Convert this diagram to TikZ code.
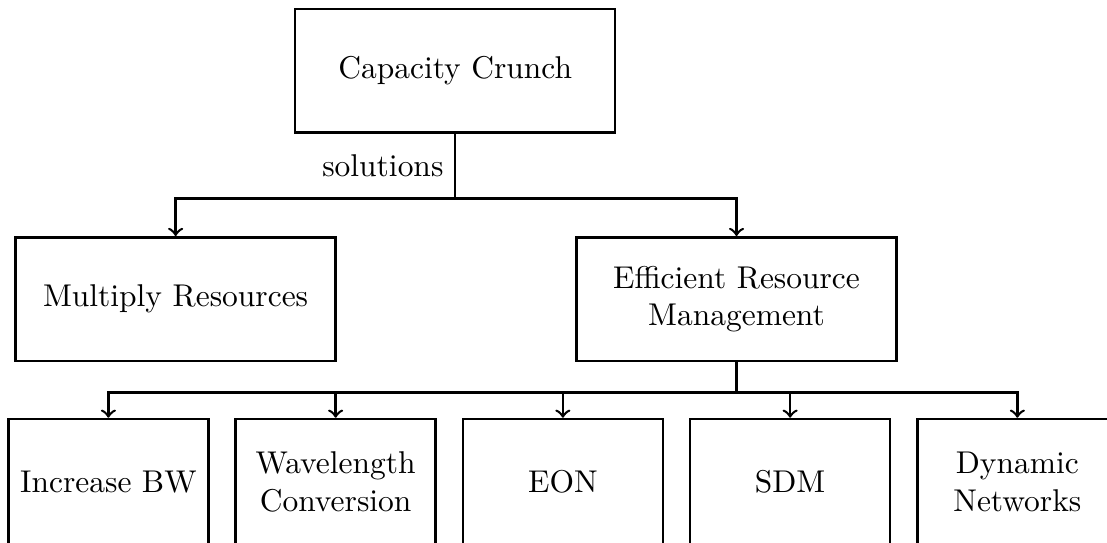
\documentclass[tikz,border=0pt]{standalone}
\usepackage{amsmath,amssymb}
\usepackage{tikz}
\usetikzlibrary{arrows,positioning,shapes}

\begin{document}
\begin{tikzpicture}[node distance=2.78mm,
  every node/.style={transform shape}
]

\tikzstyle{bigbox}=[draw,thick,rectangle,minimum width=3.57cm,minimum height=1.38cm,align=center]
\tikzstyle{smallbox}=[draw,thick,rectangle,minimum width=2.23cm,minimum height=1.41cm,align=center]
\tikzset{link style/.style={thick,->,>=to}}

\useasboundingbox (0,0) rectangle (12.355,-6.05);

\node[bigbox] (crunch) at (5.08,-0.79) {Capacity Crunch};

\node[bigbox, below=1.14cm of crunch, xshift=-3.12cm] (multiply) {Multiply Resources};
\node[bigbox, below=1.14cm of crunch, xshift=3.14cm]  (erm) {Efficient Resource\\Management};

\node[smallbox, below=0.62cm of multiply, xshift=-0.75cm] (b1) {Increase BW};
\node[smallbox, right=of b1] (b2) {Wavelength\\Conversion};
\node[smallbox, right=of b2] (b3) {EON};
\node[smallbox, right=of b3] (b4) {SDM};
\node[smallbox, right=of b4] (b5) {Dynamic\\Networks};

\coordinate[below=0.72cm of crunch] (split1);
\coordinate[below=0.34cm of erm] (split2);

\draw[thick] (crunch) -- node[left] {solutions} (split1);
\draw[link style] (split1) -| (multiply);
\draw[link style] (split1) -| (erm);

\draw[thick] (erm) -- (split2);
\foreach \b in {b1,b2,b3,b4,b5}
  \draw[link style] (split2) -| (\b);

\end{tikzpicture}
\end{document}
